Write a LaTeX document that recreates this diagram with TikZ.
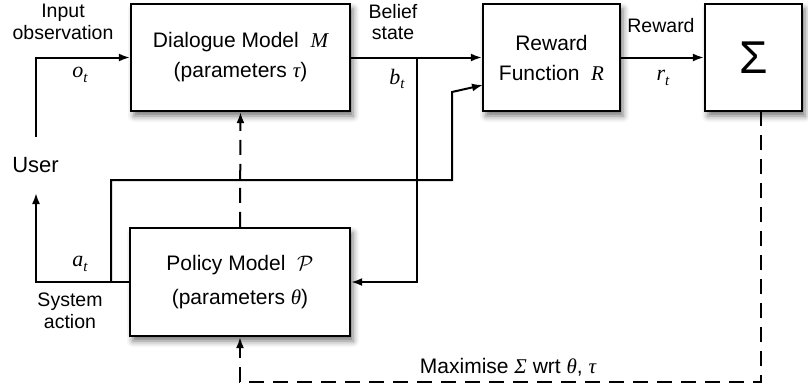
\RequirePackage{fix-cm}
\documentclass[tikz,border=0pt]{standalone}
\usepackage{amsmath}
\usepackage[no-math]{fontspec}
\setmainfont{Liberation Sans}
\newfontfamily\serfam{Liberation Serif}
\newcommand\mvar[1]{{\serfam\itshape #1}}
\newcommand\msub[2]{\mvar{#1}\raisebox{-0.38ex}{\fontsize{15}{15}\selectfont\mvar{#2}}}
\usetikzlibrary{arrows.meta,shadows.blur}

\tikzset{
  box/.style={draw=black, line width=2.3pt, fill=white, align=center,
    blur shadow={shadow xshift=3pt, shadow yshift=-5pt, shadow blur radius=6pt, shadow opacity=55},
    font=\fontsize{21}{30}\selectfont},
  arr/.style={line width=2pt, -{Latex[length=11pt,width=8pt]}},
  dsh/.style={dash pattern=on 15pt off 9pt},
  lbl/.style={font=\fontsize{19.5}{21.5}\selectfont, align=center, inner sep=0pt},
  mlbl/.style={font=\fontsize{22}{24}\selectfont, inner sep=0pt},
}

\begin{document}
\begin{tikzpicture}[x=1pt,y=-1pt]
\useasboundingbox (0,0) rectangle (808,389);

% boxes
\node[box, minimum width=219pt, minimum height=107pt] (dm) at (240.5,57.5)
  {Dialogue Model~~\mvar{M}\\(parameters \mvar{τ})};
\node[box, minimum width=137pt, minimum height=107pt] (rf) at (551.5,57.5)
  {Reward\\Function~~\mvar{R}};
\node[box, minimum width=97pt, minimum height=107pt, font=\fontsize{46}{50}\selectfont] (sg) at (753.5,57.5)
  {Σ};
\node[box, minimum width=220pt, minimum height=108pt, font=\fontsize{21}{34}\selectfont] (pm) at (240,282)
  {Policy Model~~$\mathcal{P}$\\(parameters \mvar{θ})};

% labels
\node[lbl] (inobs) at (63,22) {Input\\observation};
\node[mlbl] (ot) at (80,75) {\msub{o}{t}};
\node[lbl] (bel) at (393,22) {Belief\\state};
\node[mlbl] (bt) at (397,79) {\msub{b}{t}};
\node[lbl] (rwd) at (661,26) {Reward};
\node[mlbl] (rt) at (663,78) {\msub{r}{t}};
\node[font=\fontsize{22}{24}\selectfont, inner sep=0pt] (user) at (35.5,165) {User};
\node[mlbl] (at) at (80,264) {\msub{a}{t}};
\node[lbl] (sys) at (70,311) {System\\action};
\node[font=\fontsize{21}{24}\selectfont, inner sep=0pt] (maxl) at (508,367)
  {Maximise \mvar{Σ} wrt \mvar{θ}, \mvar{τ}};

% coordinates
\coordinate (ustart) at (36,137);
\coordinate (bj) at (417,57.5);
\coordinate (sysup) at (36,193);
\coordinate (aj) at (111,282);
\coordinate (r1) at (452,180);
\coordinate (r2) at (452,92);
\coordinate (r3) at (483,85);
\coordinate (sgb) at (761,111);
\coordinate (corner) at (761,382);

% connectors
\draw[arr] (ustart) |- (dm.west);
\draw[arr] (dm.east) -- (rf.west);
\draw[arr] (bj) |- (pm.east);
\draw[arr] (rf.east) -- (sg.west);
\draw[arr] (pm.west) -| (sysup);
\draw[arr] (aj) |- (r1) -- (r2) -- (r3);
\draw[arr, dsh] (pm.north) -- (dm.south);
\draw[arr, dsh] (sgb) -- (corner) -| (pm.south);
\end{tikzpicture}
\end{document}
